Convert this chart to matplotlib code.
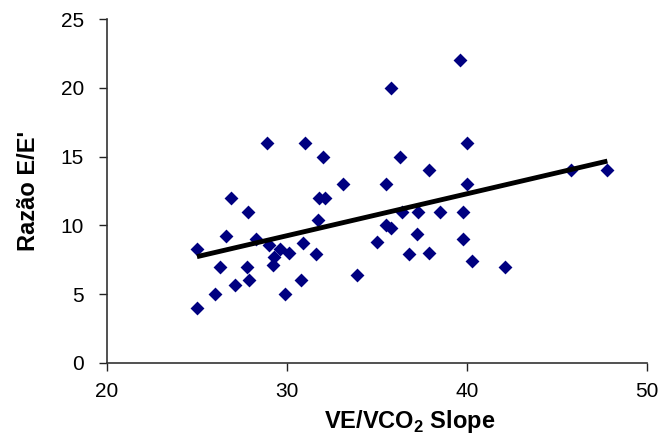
import numpy as np
import matplotlib
matplotlib.use('Agg')
import matplotlib.pyplot as plt

plt.rcParams['font.family'] = ['Liberation Sans', 'DejaVu Sans']
plt.rcParams['mathtext.fontset'] = 'custom'
plt.rcParams['mathtext.rm'] = 'Liberation Sans'
plt.rcParams['mathtext.bf'] = 'Liberation Sans:bold'

# VE/VCO2 slope vs E/E' ratio
ve_vco2 = [25.0, 25.0, 26.0, 26.3, 26.6, 26.9, 27.1, 27.8, 27.85, 27.9,
           28.3, 28.9, 29.0, 29.3, 29.25, 29.6, 30.1, 29.9, 30.9, 30.8,
           31.0, 31.6, 31.7, 31.8, 32.1, 32.0, 33.1, 33.9, 35.0, 35.5,
           35.5, 35.8, 35.8, 36.3, 36.4, 36.8, 37.2, 37.3, 37.9, 37.9,
           38.5, 39.6, 39.8, 39.8, 40.0, 40.0, 40.3, 42.1, 45.8, 47.8]
razao_ee = [4.0, 8.3, 5.0, 7.0, 9.2, 12.0, 5.7, 7.0, 11.0, 6.0,
            9.0, 16.0, 8.6, 7.7, 7.1, 8.3, 8.0, 5.0, 8.7, 6.0,
            16.0, 7.9, 10.4, 12.0, 12.0, 15.0, 13.0, 6.4, 8.8, 13.0,
            10.0, 9.8, 20.0, 15.0, 11.0, 7.9, 9.4, 11.0, 14.0, 8.0,
            11.0, 22.0, 11.0, 9.0, 16.0, 13.0, 7.4, 7.0, 14.0, 14.0]

x_ticks = [20, 30, 40, 50]
y_ticks = [0, 5, 10, 15, 20, 25]

x = np.array(ve_vco2)
y = np.array(razao_ee)

fig = plt.figure(figsize=(6.62, 4.43), dpi=100)
ax = fig.add_axes([0.1616, 0.1806, 0.8157, 0.7765])

ax.scatter(x, y, marker='D', s=50, color='#000080', zorder=3, linewidths=0)

# linear trendline over the data range
slope, intercept = np.polyfit(x, y, 1)
xs = np.array([x.min(), x.max()])
ax.plot(xs, slope * xs + intercept, color='black', lw=3.5, zorder=4,
        solid_capstyle='butt')

ax.set_xlim(20, 50)
ax.set_ylim(0, 25)
ax.set_xticks(x_ticks)
ax.set_yticks(y_ticks)
ax.tick_params(direction='out', length=5.5, width=1, labelsize=15,
               colors='#222222', labelcolor='black')
ax.tick_params(axis='y', pad=11)
ax.tick_params(axis='x', pad=8)

for s in ['top', 'right']:
    ax.spines[s].set_visible(False)
for s in ['left', 'bottom']:
    ax.spines[s].set_linewidth(1.2)
    ax.spines[s].set_color('#333333')

ax.set_xlabel(r'VE/VCO$_\mathbf{2}$ Slope', fontsize=17, fontweight='bold')
ax.xaxis.set_label_coords(0.561, -0.13)
ax.set_ylabel("Razão E/E'", fontsize=17, fontweight='bold', labelpad=15)

fig.savefig('out.png', dpi=100)
